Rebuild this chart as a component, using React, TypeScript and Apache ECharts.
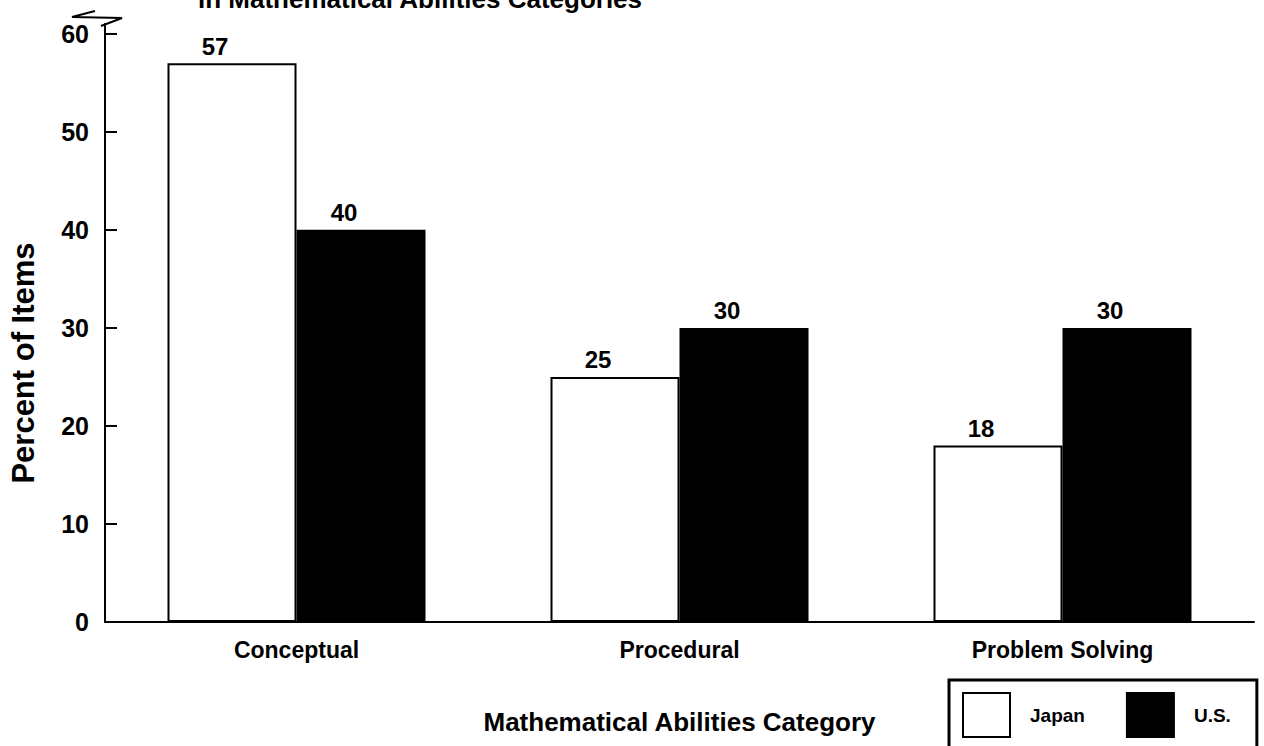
import React, { useEffect, useRef } from "react";
import * as echarts from "echarts";

const categories = ["Conceptual", "Procedural", "Problem Solving"];
const japanValues = [57, 25, 18];
const usValues = [40, 30, 30];
const yTicks = [0, 10, 20, 30, 40, 50, 60];
const titleText = "in Mathematical Abilities Categories";

const FONT = "'Liberation Sans', Arial, Helvetica, sans-serif";

export default function App() {
  const ref = useRef<HTMLDivElement>(null);
  useEffect(() => {
    document.body.style.margin = "0";
    const chart = echarts.init(ref.current!, null, { renderer: "svg" });
    const barLabel = {
      show: true,
      position: "top",
      distance: 5,
      offset: [-17, 0],
      fontFamily: FONT,
      fontWeight: "bold",
      fontSize: 24,
      color: "#000",
    };
    chart.setOption({
      animation: false,
      backgroundColor: "#ffffff",
      textStyle: { fontFamily: FONT, color: "#000" },
      grid: { left: 98, right: 10, top: 24, bottom: 124, containLabel: false },
      legend: {
        left: 949,
        top: 680,
        orient: "horizontal",
        data: ["Japan", "U.S."],
        icon: "rect",
        itemWidth: 47,
        itemHeight: 44,
        itemGap: 41,
        borderColor: "#000",
        borderWidth: 3,
        padding: [12, 26, 14, 13],
        textStyle: {
          fontFamily: FONT,
          fontWeight: "bold",
          fontSize: 19,
          color: "#000",
          padding: [0, 0, 0, 15],
        },
      },
      xAxis: {
        type: "category",
        data: categories,
        name: "Mathematical Abilities Category",
        nameLocation: "middle",
        nameGap: 87,
        nameTextStyle: {
          fontFamily: FONT,
          fontWeight: "bold",
          fontSize: 26,
          color: "#000",
        },
        axisLine: { show: true, lineStyle: { color: "#000", width: 2 } },
        axisTick: { show: false },
        axisLabel: {
          fontFamily: FONT,
          fontWeight: "bold",
          fontSize: 23,
          color: "#000",
          margin: 16,
        },
      },
      yAxis: {
        type: "value",
        min: 0,
        max: 61,
        name: "Percent of Items",
        nameLocation: "middle",
        nameGap: 66,
        nameRotate: 90,
        nameTextStyle: {
          fontFamily: FONT,
          fontWeight: "bold",
          fontSize: 31,
          color: "#000",
          padding: [0, 80, 0, 0],
        },
        splitLine: { show: false },
        axisLine: { show: true, lineStyle: { color: "#000", width: 2 } },
        axisTick: {
          show: true,
          inside: true,
          length: 12,
          customValues: yTicks,
          lineStyle: { color: "#000", width: 2 },
        },
        axisLabel: {
          customValues: yTicks,
          fontFamily: FONT,
          fontWeight: "bold",
          fontSize: 25,
          color: "#000",
          margin: 16,
        },
      },
      graphic: [
        {
          type: "text",
          left: 198,
          top: -14,
          style: {
            text: titleText,
            fontFamily: FONT,
            fontWeight: "bold",
            fontSize: 26,
            fill: "#000",
          },
        },
        {
          type: "polyline",
          shape: { points: [[95, 11], [72, 17], [122, 18], [101, 26]] },
          style: { stroke: "#000", lineWidth: 2, fill: "none" },
        },
      ],
      series: [
        {
          name: "Japan",
          type: "bar",
          data: japanValues,
          barWidth: 129,
          barGap: "0%",
          itemStyle: { color: "#ffffff", borderColor: "#000", borderWidth: 2 },
          label: barLabel,
        },
        {
          name: "U.S.",
          type: "bar",
          data: usValues,
          barWidth: 129,
          barGap: "0%",
          itemStyle: { color: "#000000", borderColor: "#000", borderWidth: 2 },
          label: barLabel,
        },
      ],
    });
    return () => chart.dispose();
  }, []);
  return <div ref={ref} style={{ width: 1264, height: 746 }} />;
}
